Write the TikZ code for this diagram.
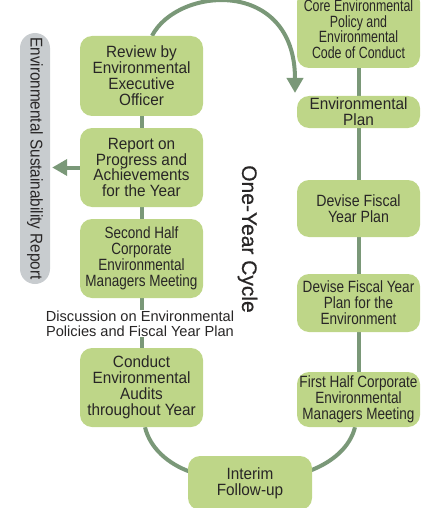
\documentclass[tikz,border=0pt]{standalone}
\usepackage{fontspec}
\setmainfont{Liberation Sans}
\newfontfamily\fN[FakeStretch=0.94]{Liberation Sans}
\newfontfamily\fA[FakeStretch=0.83]{Liberation Sans}
\newfontfamily\fB[FakeStretch=0.87]{Liberation Sans}
\newfontfamily\fC[FakeStretch=0.76]{Liberation Sans}
\newfontfamily\fP[FakeStretch=0.9]{Liberation Sans}
\newfontfamily\fY[FakeBold=0.6]{Liberation Sans}
\usetikzlibrary{arrows.meta,backgrounds}
\definecolor{boxgreen}{RGB}{190,214,136}
\definecolor{linegreen}{RGB}{122,152,120}
\definecolor{pillgray}{RGB}{200,204,207}
\definecolor{txt}{RGB}{40,38,38}
\begin{document}
\begin{tikzpicture}[x=1pt,y=-1pt,
  box/.style={rectangle, rounded corners=12pt, fill=boxgreen, align=center,
    inner sep=0pt, minimum width=123pt, text=txt,
    font={\fN\fontsize{16.3}{15.9}\selectfont}},
  condbox/.style={box, font={\fA\fontsize{16.3}{15.9}\selectfont}},
  conn/.style={draw=linegreen, line width=4pt},
  tipstyle/.style={-{Triangle[width=16pt,length=15pt]}}]
\useasboundingbox (0,0) rectangle (427,508);

% left column
\node[box, minimum height=80pt] (rev) at (141.5,76) {Review by\\Environmental\\Executive\\Officer};
\node[box, minimum height=79pt] (rep) at (141.5,167.5) {Report on\\Progress and\\Achievements\\for the Year};
\node[condbox, minimum height=79pt] (sec) at (141.5,258.5) {Second Half\\Corporate\\Environmental\\Managers Meeting};
\node[box, minimum height=79pt] (aud) at (141.5,387.5) {Conduct\\Environmental\\Audits\\throughout Year};

% right column
\node[box, minimum height=78pt, font={\fC\fontsize{16.3}{15.6}\selectfont}] (core) at (358.5,29) {Core Environmental\\Policy and\\Environmental\\Code of Conduct};
\node[box, minimum height=32pt] (plan) at (358.5,112) {Environmental\\Plan};
\node[box, minimum height=57pt, font={\fB\fontsize{16.3}{15.9}\selectfont}] (dfy) at (358.5,208.5) {Devise Fiscal\\Year Plan};
\node[condbox, minimum height=58pt] (dfe) at (358.5,303) {Devise Fiscal Year\\Plan for the\\Environment};
\node[condbox, minimum height=55pt] (fh) at (358.5,399.5) {First Half Corporate\\Environmental\\Managers Meeting};

% bottom
\node[box, minimum height=54pt, minimum width=124pt] (int) at (250,483) {Interim\\Follow-up};

% discussion label
\node[fill=white, inner sep=1pt, align=center, text=txt,
  font={\fontsize{14.6}{15}\selectfont}] (disc) at (140,323.5)
  {Discussion on Environmental\\Policies and Fiscal Year Plan};

% cycle label
\node[rotate=-90, text=txt, font={\fY\fontsize{21}{23}\selectfont}] (cyc) at (247.5,239) {One-Year Cycle};

% report pill
\node[rotate=-90, fill=pillgray, rounded corners=15pt, minimum width=251pt,
  minimum height=30pt, inner sep=0pt, text=txt,
  font={\fP\fontsize{17}{17}\selectfont}] (esr) at (35,158.5) {Environmental Sustainability Report};

\coordinate (arrE) at (295,93);

\begin{scope}[on background layer]
\draw[conn] (rev.south) -- (rep.north);
\draw[conn] (rep.south) -- (sec.north);
\draw[conn] (sec.south) -- (aud.north);
\draw[conn] (core.south) -- (plan.north);
\draw[conn] (plan.south) -- (dfy.north);
\draw[conn] (dfy.south) -- (dfe.north);
\draw[conn] (dfe.south) -- (fh.north);
\draw[conn, tipstyle] ([xshift=10.5pt]rev.north) .. controls (178,-14) and (295,-22) .. (arrE);
\draw[conn] ([xshift=3.5pt]aud.south) .. controls (150,448) and (168,464) .. ([xshift=3pt,yshift=11pt]int.west);
\draw[conn] ([xshift=-3pt,yshift=12pt]int.east) .. controls (333,462) and (350,447) .. ([xshift=-3.5pt]fh.south);
\draw[conn, tipstyle, shorten >=2pt] (rep.west) -- (rep.west -| esr.north);
\end{scope}
\end{tikzpicture}
\end{document}
